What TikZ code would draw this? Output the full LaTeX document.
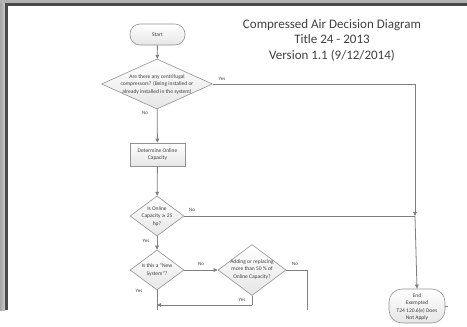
\documentclass[tikz,border=0pt]{standalone}
\usepackage{fontspec}
\setmainfont{Carlito}
\usetikzlibrary{shapes.geometric,arrows.meta}
\definecolor{txt}{HTML}{404040}
\definecolor{ln}{HTML}{7F7F7F}
\definecolor{frm}{HTML}{4A4A4A}
\begin{document}
\begin{tikzpicture}[x=1pt,y=-1pt,
  conn/.style={draw=ln,line width=0.8pt},
  arr/.style={conn,-{Triangle[length=4pt,width=3.6pt]}},
  shp/.style={draw=ln!85,line width=0.6pt,top color=white,bottom color=black!10},
  dia/.style={shp,diamond,inner sep=0pt,minimum width=#1},
  term/.style={shp,rectangle,rounded corners=10pt,inner sep=0pt},
  lbl/.style={font=\fontsize{5.5}{7.5}\selectfont,text=txt,align=center,inner sep=0pt},
  yn/.style={font=\fontsize{5}{6}\selectfont,text=txt,inner sep=0pt}]
\useasboundingbox (0,0) rectangle (467,327);
\fill[white] (0,0) rectangle (467,327);
% window frame
\shade[left color=black!35,right color=black!20] (0,0) rectangle (5,310);
\fill[black!30] (0,0) rectangle (467,3);
\fill[frm] (5,3) rectangle (8,310);
\fill[frm] (5,3) rectangle (467,5.5);
% title
\node[font=\fontsize{13}{15.5}\selectfont,text=txt,align=center] (title) at (332,40)
  {Compressed Air Decision Diagram\\Title 24 - 2013\\Version 1.1 (9/12/2014)};
% nodes
\node[term,minimum width=55pt,minimum height=21pt] (start) at (157.5,34.5) {};
\node[lbl] (starttxt) at (start) {Start};
\node[dia,minimum width=111pt,minimum height=50pt] (d1) at (157,84) {};
\node[lbl] (d1txt) at (157,84.5) {Are there any centrifugal\\compressors? (Being installed or\\already installed in the system)};
\node[shp,rectangle,minimum width=55pt,minimum height=23pt,inner sep=0pt] (box) at (157.5,154.5) {};
\node[lbl] (boxtxt) at (box) {Determine Online\\Capacity};
\node[dia,minimum width=54pt,minimum height=40pt] (d2) at (157,216) {};
\node[lbl] (d2txt) at (157,216.5) {Is Online\\Capacity {\fontspec{DejaVu Sans}\fontsize{4.5}{7.5}\selectfont ≥} 25\\hp?};
\node[dia,minimum width=54pt,minimum height=40pt] (d3) at (157,270) {};
\node[lbl] (d3txt) at (157,270) {Is this a ``New\\System''?};
\node[dia,minimum width=68pt,minimum height=51pt] (d4) at (252,270) {};
\node[lbl] (d4txt) at (252,269.5) {Adding or replacing\\more than 50 \% of\\Online Capacity?};
\node[term,rounded corners=13pt,minimum width=56pt,minimum height=34pt] (end) at (417,306) {};
\node[lbl,font=\fontsize{5.5}{7.3}\selectfont] (endtxt) at (417,307) {End\\Exempted\\T24 120.6(e) Does\\Not Apply};
% junction coordinates
\coordinate (j1) at (415,84);
\coordinate (j2) at (415,216);
\coordinate (r4) at (307,270);
\coordinate (r4b) at (307,310);
\coordinate (y4) at (252,305);
\coordinate (m3) at (157,305);
\coordinate (d3b) at (157,310);
\coordinate (estub) at (448,306);
% connectors
\draw[arr] (start) -- (d1);
\draw[arr] (d1) -- (box);
\draw[arr] (box) -- (d2);
\draw[arr] (d2) -- (d3);
\draw[arr] (d3) -- (d4);
\draw[conn] (d1.east) -- (j1);
\draw[arr] (j1) -- (j2);
\draw[conn] (d2.east) -- (j2);
\draw[arr] (j2) -- (end.north);
\draw[conn] (d4.east) -- (r4) -- (r4b);
\draw[conn] (d4.south) -- (y4);
\draw[arr] (y4) -- (m3);
\draw[conn] (d3.south) -- (d3b);
\draw[conn] (end.east) -- (estub);
% labels
\node[yn] (l1) at (222,79) {Yes};
\node[yn] (l2) at (145,113) {No};
\node[yn] (l3) at (192,210) {No};
\node[yn] (l4) at (146,241) {Yes};
\node[yn] (l5) at (201,264) {No};
\node[yn] (l6) at (295,264) {No};
\node[yn] (l7) at (139,291) {Yes};
\node[yn] (l8) at (242,300) {Yes};
\end{tikzpicture}
\end{document}
